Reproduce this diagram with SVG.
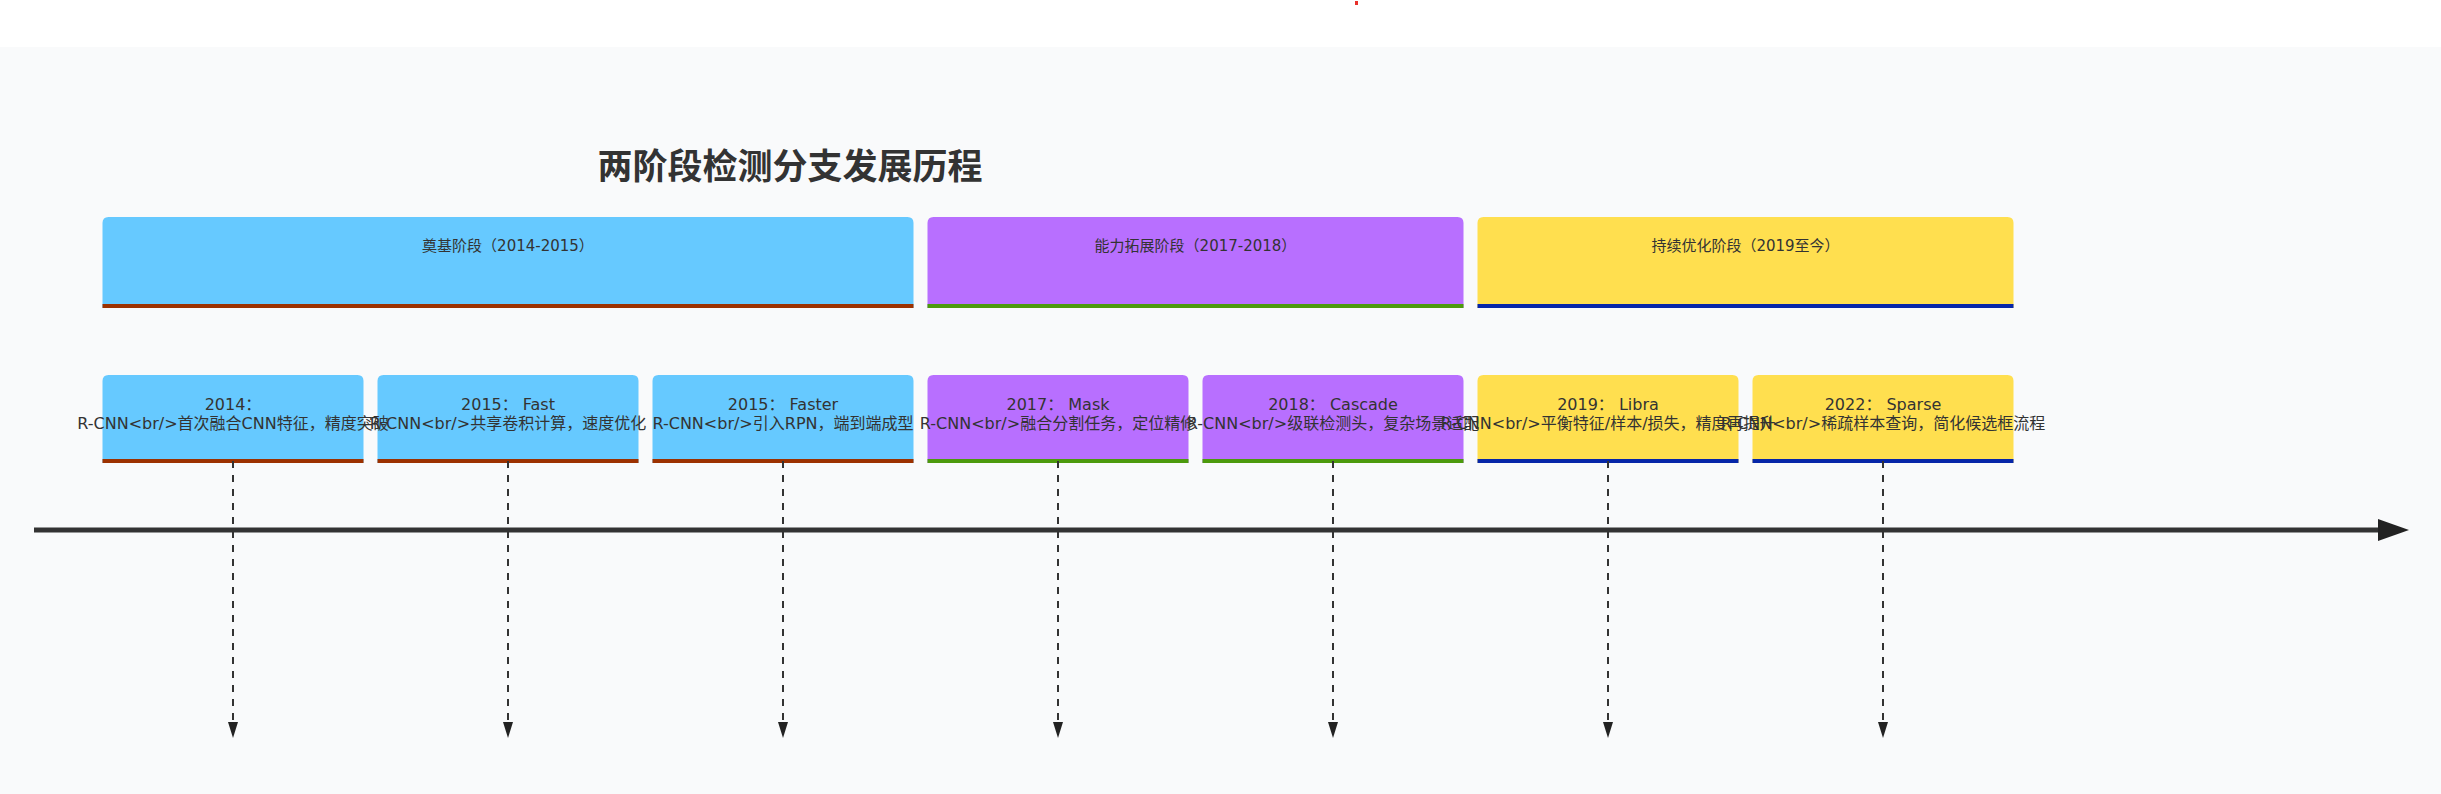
<svg xmlns="http://www.w3.org/2000/svg" width="2441" height="794" viewBox="0 0 2441 794">
<defs>
<style>
.bg{fill:#f9fafb}
.title{font-family:"Noto Sans CJK SC","DejaVu Sans",sans-serif;font-size:35px;font-weight:bold;fill:#333;text-anchor:middle}
.ph{font-family:"DejaVu Sans","Noto Sans CJK SC",sans-serif;font-size:15px;fill:#333;text-anchor:middle}
.ev{font-family:"DejaVu Sans","Noto Sans CJK SC",sans-serif;font-size:16px;fill:#333;text-anchor:middle}
.blue{fill:#66c9ff}
.purple{fill:#b86fff}
.yellow{fill:#ffdf4f}
.barA{fill:#9c3100}
.barB{fill:#4c9a0c}
.barC{fill:#0626a8}
.dash{stroke:#333;stroke-width:2;stroke-dasharray:7 7;fill:none}
.axis{stroke:#333;stroke-width:5;fill:none}
</style>
<marker id="arrDown" markerUnits="userSpaceOnUse" markerWidth="16" markerHeight="10" viewBox="0 -5 16 10" refX="0" refY="0" orient="auto">
<path d="M0,-5 L16,0 L0,5 Z" fill="#222"/>
</marker>
<marker id="arrAxis" markerUnits="userSpaceOnUse" markerWidth="31" markerHeight="22" viewBox="0 -11 31 22" refX="0" refY="0" orient="auto">
<path d="M0,-11 L31,0 L0,11 Z" fill="#222"/>
</marker>
</defs>
<rect x="0" y="0" width="2441" height="794" fill="#ffffff"/>
<rect class="bg" x="0" y="47" width="2441" height="747"/>
<rect x="1355" y="1" width="3" height="4" fill="#e8302a"/>
<text class="title" x="790" y="179">两阶段检测分支发展历程</text>

<g id="phase1">
<path class="blue" d="M102.5,308 V223 Q102.5,217 108.5,217 H907.5 Q913.5,217 913.5,223 V308 Z"/>
<rect class="barA" x="102.5" y="304" width="811" height="4"/>
<text class="ph" x="508" y="251">奠基阶段（2014-2015）</text>
</g>
<g id="phase2">
<path class="purple" d="M927.5,308 V223 Q927.5,217 933.5,217 H1457.5 Q1463.5,217 1463.5,223 V308 Z"/>
<rect class="barB" x="927.5" y="304" width="536" height="4"/>
<text class="ph" x="1195.5" y="251">能力拓展阶段（2017-2018）</text>
</g>
<g id="phase3">
<path class="yellow" d="M1477.5,308 V223 Q1477.5,217 1483.5,217 H2007.5 Q2013.5,217 2013.5,223 V308 Z"/>
<rect class="barC" x="1477.5" y="304" width="536" height="4"/>
<text class="ph" x="1745.5" y="251">持续优化阶段（2019至今）</text>
</g>

<g id="ev1">
<path class="blue" d="M102.5,463 V381 Q102.5,375 108.5,375 H357.5 Q363.5,375 363.5,381 V463 Z"/>
<rect class="barA" x="102.5" y="459" width="261" height="4"/>
</g>
<g id="ev2">
<path class="blue" d="M377.5,463 V381 Q377.5,375 383.5,375 H632.5 Q638.5,375 638.5,381 V463 Z"/>
<rect class="barA" x="377.5" y="459" width="261" height="4"/>
</g>
<g id="ev3">
<path class="blue" d="M652.5,463 V381 Q652.5,375 658.5,375 H907.5 Q913.5,375 913.5,381 V463 Z"/>
<rect class="barA" x="652.5" y="459" width="261" height="4"/>
</g>
<g id="ev4">
<path class="purple" d="M927.5,463 V381 Q927.5,375 933.5,375 H1182.5 Q1188.5,375 1188.5,381 V463 Z"/>
<rect class="barB" x="927.5" y="459" width="261" height="4"/>
</g>
<g id="ev5">
<path class="purple" d="M1202.5,463 V381 Q1202.5,375 1208.5,375 H1457.5 Q1463.5,375 1463.5,381 V463 Z"/>
<rect class="barB" x="1202.5" y="459" width="261" height="4"/>
</g>
<g id="ev6">
<path class="yellow" d="M1477.5,463 V381 Q1477.5,375 1483.5,375 H1732.5 Q1738.5,375 1738.5,381 V463 Z"/>
<rect class="barC" x="1477.5" y="459" width="261" height="4"/>
</g>
<g id="ev7">
<path class="yellow" d="M1752.5,463 V381 Q1752.5,375 1758.5,375 H2007.5 Q2013.5,375 2013.5,381 V463 Z"/>
<rect class="barC" x="1752.5" y="459" width="261" height="4"/>
</g>

<g id="event-labels">
<text class="ev" x="233" y="410">2014：</text>
<text class="ev" x="233" y="429">R-CNN&lt;br/&gt;首次融合CNN特征，精度突破</text>
<text class="ev" x="508" y="410">2015： Fast</text>
<text class="ev" x="508" y="429">R-CNN&lt;br/&gt;共享卷积计算，速度优化</text>
<text class="ev" x="783" y="410">2015： Faster</text>
<text class="ev" x="783" y="429">R-CNN&lt;br/&gt;引入RPN，端到端成型</text>
<text class="ev" x="1058" y="410">2017： Mask</text>
<text class="ev" x="1058" y="429">R-CNN&lt;br/&gt;融合分割任务，定位精修</text>
<text class="ev" x="1333" y="410">2018： Cascade</text>
<text class="ev" x="1333" y="429">R-CNN&lt;br/&gt;级联检测头，复杂场景适配</text>
<text class="ev" x="1608" y="410">2019： Libra</text>
<text class="ev" x="1608" y="429">R-CNN&lt;br/&gt;平衡特征/样本/损失，精度再提升</text>
<text class="ev" x="1883" y="410">2022： Sparse</text>
<text class="ev" x="1883" y="429">R-CNN&lt;br/&gt;稀疏样本查询，简化候选框流程</text>
</g>

<g id="connectors">
<line class="axis" x1="34" y1="530" x2="2378" y2="530" marker-end="url(#arrAxis)"/>
<line class="dash" x1="233" y1="461" x2="233" y2="722" marker-end="url(#arrDown)"/>
<line class="dash" x1="508" y1="461" x2="508" y2="722" marker-end="url(#arrDown)"/>
<line class="dash" x1="783" y1="461" x2="783" y2="722" marker-end="url(#arrDown)"/>
<line class="dash" x1="1058" y1="461" x2="1058" y2="722" marker-end="url(#arrDown)"/>
<line class="dash" x1="1333" y1="461" x2="1333" y2="722" marker-end="url(#arrDown)"/>
<line class="dash" x1="1608" y1="461" x2="1608" y2="722" marker-end="url(#arrDown)"/>
<line class="dash" x1="1883" y1="461" x2="1883" y2="722" marker-end="url(#arrDown)"/>
</g>
</svg>
